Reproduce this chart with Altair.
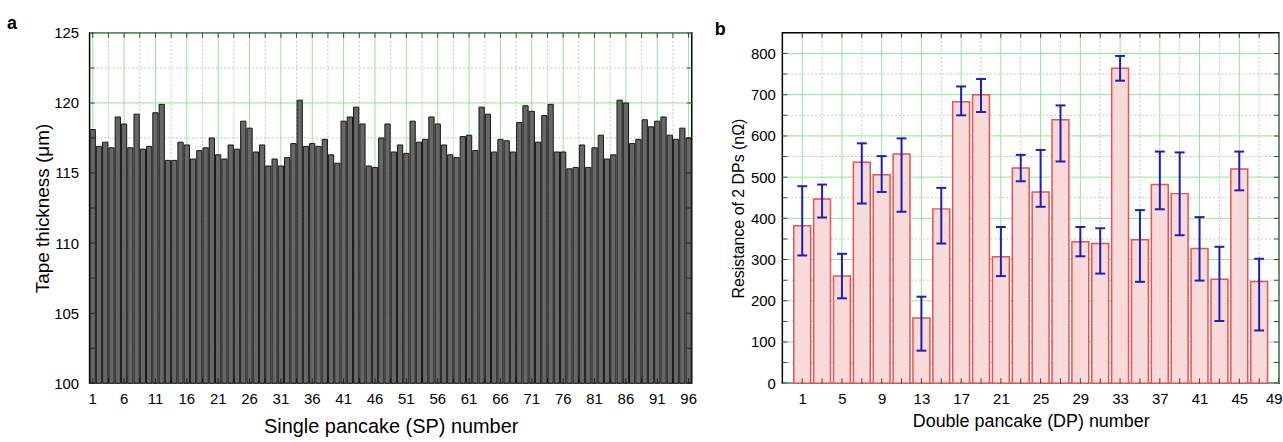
import altair as alt
import pandas as pd

# ---------------- data: panel a ----------------
sp_number = list(range(1, 97))
tape_thickness = [
    118.1, 116.9, 117.2, 116.8, 119.0, 118.5, 116.8, 119.2, 116.7, 116.9,
    119.3, 119.9, 115.9, 115.9, 117.2, 117.0, 116.0, 116.6, 116.8, 117.5,
    116.3, 116.0, 117.0, 116.7, 118.7, 118.2, 116.5, 117.0, 115.5, 116.0,
    115.5, 116.1, 117.1, 120.2, 116.9, 117.1, 116.9, 117.4, 116.3, 115.7,
    118.7, 119.0, 119.7, 118.5, 115.5, 115.4, 117.5, 118.5, 116.5, 117.0,
    116.4, 118.7, 117.2, 117.4, 119.0, 118.5, 117.0, 116.3, 116.1, 117.6,
    117.7, 116.6, 119.7, 119.2, 116.5, 117.4, 117.3, 116.5, 118.6, 119.8,
    119.4, 117.2, 119.1, 119.9, 116.5, 116.5, 115.3, 115.4, 117.0, 115.4,
    116.8, 117.7, 116.0, 116.3, 120.2, 120.0, 117.1, 117.4, 118.8, 118.3,
    118.7, 119.0, 117.7, 117.4, 118.2, 117.5,
]
sp_major = [1, 6, 11, 16, 21, 26, 31, 36, 41, 46, 51, 56, 61, 66, 71, 76, 81, 86, 91, 96]
sp_minor = [3.5, 8.5, 13.5, 18.5, 23.5, 28.5, 33.5, 38.5, 43.5, 48.5, 53.5, 58.5,
            63.5, 68.5, 73.5, 78.5, 83.5, 88.5, 93.5]
thk_major = [100, 105, 110, 115, 120, 125]
thk_minor = [102.5, 107.5, 112.5, 117.5, 122.5]

# ---------------- data: panel b ----------------
dp_number = [1, 3, 5, 7, 9, 11, 13, 15, 17, 19, 21, 23, 25, 27, 29, 31, 33, 35, 37, 39, 41, 43, 45, 47]
resistance = [382, 447, 260, 536, 506, 556, 158, 423, 683, 700, 307, 522,
              464, 639, 343, 339, 764, 348, 482, 460, 327, 252, 520, 247]
res_low = [310, 402, 206, 436, 464, 416, 79, 339, 650, 658, 260, 490,
           428, 538, 308, 266, 734, 246, 422, 359, 249, 151, 468, 128]
res_high = [478, 482, 314, 582, 551, 594, 210, 474, 720, 738, 379, 554,
            566, 674, 379, 376, 794, 420, 562, 560, 403, 331, 562, 302]
dp_major = [1, 5, 9, 13, 17, 21, 25, 29, 33, 37, 41, 45, 49]
dp_minor = [3, 7, 11, 15, 19, 23, 27, 31, 35, 39, 43, 47]
res_major = [0, 100, 200, 300, 400, 500, 600, 700, 800]
res_minor = [50, 150, 250, 350, 450, 550, 650, 750]

FONT = "Liberation Sans"
GREEN = "#8fe68f"
DOT = "#c4c4c4"


def vrules(values, xs, color, dash=None):
    kw = dict(color=color, strokeWidth=1)
    if dash:
        kw["strokeDash"] = dash
    return alt.Chart(pd.DataFrame({"v": values})).mark_rule(**kw).encode(
        x=alt.X("v:Q", scale=xs))


def hrules(values, ys, color, dash=None):
    kw = dict(color=color, strokeWidth=1)
    if dash:
        kw["strokeDash"] = dash
    return alt.Chart(pd.DataFrame({"h": values})).mark_rule(**kw).encode(
        y=alt.Y("h:Q", scale=ys))


def frame_ticks(xvals, yvals, xs, ys, xdom, ydom):
    out = []
    for yd in ydom:
        out.append(alt.Chart(pd.DataFrame({"v": xvals})).mark_tick(
            orient="vertical", clip=True, color="black", size=10, thickness=1).encode(
            x=alt.X("v:Q", scale=xs),
            y=alt.Y(datum=yd, scale=ys)))
    for xd in xdom:
        out.append(alt.Chart(pd.DataFrame({"h": yvals})).mark_tick(
            orient="horizontal", clip=True, color="black", size=10, thickness=1).encode(
            y=alt.Y("h:Q", scale=ys),
            x=alt.X(datum=xd, scale=xs)))
    return out


# ---------------- panel a ----------------
xa = alt.Scale(domain=[0.5, 96.5], nice=False, zero=False)
ya = alt.Scale(domain=[100, 125], nice=False, zero=False)
sp_ticks = sorted(sp_major + sp_minor)
thk_ticks = sorted(thk_major + thk_minor)

a_bars = alt.Chart(pd.DataFrame({"sp": sp_number, "t": tape_thickness})).transform_calculate(
    x0="datum.sp - 0.42", x1="datum.sp + 0.42"
).mark_bar(fill="#676767", stroke="#151515", strokeWidth=1).encode(
    x=alt.X("x0:Q", scale=xa, axis=alt.Axis(orient="bottom", values=sp_major, ticks=False, domain=False,
                                            grid=False, labels=False,
                                            title="Single pancake (SP) number", titleFontSize=20,
                                            titlePadding=33)),
    x2="x1:Q",
    y=alt.Y("t:Q", scale=ya, axis=alt.Axis(orient="left", values=thk_major, ticks=False, domain=False,
                                           grid=False, labelFontSize=15, labelPadding=11,
                                           labelOverlap=False,
                                           title="Tape thickness (μm)", titleFontSize=19,
                                           titlePadding=1)),
    y2=alt.Y2(datum=100),
)

a_xlabels = alt.Chart(pd.DataFrame({"v": sp_major, "lab": [str(v) for v in sp_major]})).mark_text(
    baseline="top", dy=9, fontSize=15, font=FONT, color="black"
).encode(
    x=alt.X("v:Q", scale=xa),
    y=alt.Y(datum=100, scale=ya),
    text="lab:N",
)

panel_a = alt.layer(
    vrules(sp_major, xa, GREEN), vrules(sp_minor, xa, DOT, [2, 2]),
    hrules(thk_major, ya, GREEN), hrules(thk_minor, ya, DOT, [2, 2]),
    a_bars, a_xlabels,
    *frame_ticks(sp_ticks, thk_ticks, xa, ya, [0.5, 96.5], [100, 125]),
).properties(
    width=605, height=352,
    title=alt.TitleParams("a", anchor="start", frame="bounds", dx=-27, fontSize=18,
                          fontWeight="bold", font=FONT, offset=-7),
)

# ---------------- panel b ----------------
xb = alt.Scale(domain=[-1, 49], nice=False, zero=False)
yb = alt.Scale(domain=[0, 850], nice=False, zero=False)
dp_ticks = sorted(dp_major + dp_minor)
res_ticks = sorted(res_major + res_minor)

dfb = pd.DataFrame({"dp": dp_number, "r": resistance, "lo": res_low, "hi": res_high})

b_bars = alt.Chart(dfb).transform_calculate(
    x0="datum.dp - 0.85", x1="datum.dp + 0.85"
).mark_bar(fill="#f8dada", stroke="#e05555", strokeWidth=1.5).encode(
    x=alt.X("x0:Q", scale=xb, axis=alt.Axis(orient="bottom", values=dp_major, ticks=False, domain=False,
                                            grid=False, labelFontSize=15, labelPadding=8,
                                            labelOverlap=False, labelFlush=1, labelFlushOffset=3,
                                            title="Double pancake (DP) number", titleFontSize=18,
                                            titlePadding=6)),
    x2="x1:Q",
    y=alt.Y("r:Q", scale=yb, axis=alt.Axis(orient="left", values=res_major, ticks=False, domain=False,
                                           grid=False, labelFontSize=15, labelPadding=7,
                                           labelOverlap=False,
                                           title="Resistance of 2 DPs (nΩ)", titleFontSize=16,
                                           titlePadding=4)),
    y2=alt.Y2(datum=0),
)

BLUE = "#1f1fb8"
b_err = alt.Chart(dfb).mark_rule(color=BLUE, strokeWidth=2).encode(
    x=alt.X("dp:Q", scale=xb),
    y=alt.Y("lo:Q", scale=yb),
    y2="hi:Q",
)
b_cap_hi = alt.Chart(dfb).transform_calculate(
    c0="datum.dp - 0.5", c1="datum.dp + 0.5"
).mark_rule(color=BLUE, strokeWidth=2).encode(
    x=alt.X("c0:Q", scale=xb), x2="c1:Q",
    y=alt.Y("hi:Q", scale=yb),
)
b_cap_lo = alt.Chart(dfb).transform_calculate(
    c0="datum.dp - 0.5", c1="datum.dp + 0.5"
).mark_rule(color=BLUE, strokeWidth=2).encode(
    x=alt.X("c0:Q", scale=xb), x2="c1:Q",
    y=alt.Y("lo:Q", scale=yb),
)

panel_b = alt.layer(
    vrules(dp_major, xb, GREEN), vrules(dp_minor, xb, DOT, [2, 2]),
    hrules(res_major, yb, GREEN), hrules(res_minor, yb, DOT, [2, 2]),
    b_bars, b_err, b_cap_hi, b_cap_lo,
    *frame_ticks(dp_ticks, res_ticks, xb, yb, [-1, 49], [0, 850]),
).properties(
    width=499, height=352,
    title=alt.TitleParams("b", anchor="start", frame="bounds", dx=-16, fontSize=18,
                          fontWeight="bold", font=FONT, offset=-7),
)

chart = alt.hconcat(panel_a, panel_b, spacing=16).properties(
    padding={"left": 6, "top": 13, "right": 0, "bottom": 0},
    background="white",
).configure_view(
    stroke="black", strokeWidth=1.5
).configure_axis(
    labelFont=FONT, titleFont=FONT, labelColor="black", titleColor="black",
    titleFontWeight="normal",
).configure_title(font=FONT)

chart.save("out.html", embed_options={"renderer": "svg", "actions": False})
